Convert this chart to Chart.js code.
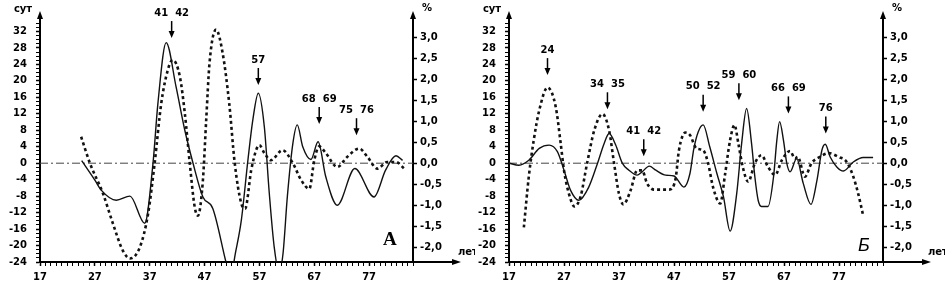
<!DOCTYPE html>
<html>
<head>
<meta charset="utf-8">
<script src="https://cdn.jsdelivr.net/npm/chart.js@4.4.1/dist/chart.umd.min.js"></script>
<style>
html, body { margin: 0; padding: 0; background: #fff; }
#wrap { position: relative; width: 945px; height: 288px; overflow: hidden; }
canvas { position: absolute; top: 0; }
#chartA { left: 0; }
#chartB { left: 470px; }
</style>
</head>
<body>
<div id="wrap">
  <canvas id="chartA" width="475" height="288"></canvas>
  <canvas id="chartB" width="475" height="288"></canvas>
</div>
<script>
// axis ticks
const xTickLabels = [17, 27, 37, 47, 57, 67, 77];
const dayTickLabels = [-24, -20, -16, -12, -8, -4, 0, 4, 8, 12, 16, 20, 24, 28, 32];
const pctTickLabels = [-2, -1.5, -1, -0.5, 0, 0.5, 1, 1.5, 2, 2.5, 3];
const dayPerPct = 10.2; // 1 % on the right axis = 10.2 сут on the left

// panel A: solid line, сут
const aSolidYears = [24.6, 27.0, 28.2, 30.9, 33.4, 36.1, 37.6, 38.5, 40.0, 41.8, 43.4, 44.9, 46.7, 48.5, 50.9, 51.7, 52.6, 53.7, 54.9, 55.8, 56.8, 57.9, 58.8, 59.7, 60.6, 61.3, 62.1, 63.1, 63.9, 64.9, 66.4, 67.7, 69.1, 71.2, 74.4, 77.9, 80.0, 81.9, 83.1];
const aSolidDays = [0.6, -4.1, -6.6, -9.0, -8.0, -14.6, 0, 14.6, 29.3, 18.6, 8.0, 0, -8.2, -11.0, -24.0, -28.0, -22.0, -13.9, 0.7, 10.5, 17.0, 8.8, -7.3, -20.4, -26.5, -22.0, -8.0, 4.8, 9.3, 4.0, 0.9, 5.2, -3.3, -10.2, -1.3, -8.2, -1.7, 1.8, 0.7];
// panel A: dotted line, %
const aDotYears = [24.5, 26.1, 28.5, 30.3, 32.1, 33.4, 35.2, 36.7, 37.9, 39.1, 40.3, 41.2, 42.5, 43.4, 44.3, 45.2, 45.8, 46.7, 47.3, 47.9, 49.1, 50.3, 51.5, 52.5, 53.7, 54.4, 55.5, 56.4, 57.0, 57.9, 59.1, 61.2, 63.1, 64.6, 66.1, 67.0, 67.9, 69.1, 71.2, 73.0, 75.2, 76.7, 78.5, 80.3, 81.9, 83.4];
const aDotPct = [0.63, 0, -0.73, -1.44, -2.08, -2.27, -2.0, -1.21, 0, 1.42, 2.22, 2.46, 2.06, 1.19, 0, -1.04, -1.25, -0.40, 1.03, 2.38, 3.18, 2.62, 1.42, 0, -0.96, -1.08, -0.17, 0.31, 0.43, 0.24, 0.07, 0.31, 0, -0.40, -0.61, 0.07, 0.40, 0.24, -0.09, 0.15, 0.35, 0.15, -0.13, 0.03, 0.03, -0.13];
// panel A: marked years
const aMarkLabels = ['41  42', '57', '68  69', '75  76'];
const aMarkYears = [41.0, 56.8, 67.9, 74.7];
const aMarkTips = [30.4, 19.0, 9.5, 6.8];

// panel Б: solid line, сут
const bSolidYears = [17.0, 18.8, 20.6, 22.5, 24.3, 25.8, 27.0, 28.2, 29.7, 31.5, 33.1, 34.3, 35.2, 36.4, 37.6, 38.8, 40.3, 41.2, 42.5, 43.7, 45.5, 47.0, 48.8, 49.9, 50.6, 51.4, 52.3, 53.5, 54.8, 56.0, 57.2, 58.4, 59.3, 60.2, 61.1, 61.7, 62.3, 62.9, 64.1, 65.1, 65.7, 66.2, 66.9, 67.5, 68.1, 69.3, 70.5, 71.9, 73.0, 73.9, 74.5, 75.4, 76.6, 77.8, 79.6, 81.4, 83.2];
const bSolidDays = [0, -0.5, 0.7, 3.6, 4.4, 2.8, -1.7, -6.6, -9.0, -5.8, 0, 4.8, 7.2, 4.4, 0, -1.7, -2.9, -2.1, -0.7, -1.7, -2.9, -3.1, -5.8, -2.5, 3.5, 7.6, 9.3, 4.0, -2.5, -8.2, -16.5, -7.4, 4.8, 13.3, 4.8, -3.3, -9.0, -10.5, -10.5, -3.3, 5.6, 10.1, 5.6, 0, -2.1, 1.1, -4.9, -10.0, -4.1, 3.2, 4.6, 1.5, -0.9, -1.9, 0.3, 1.4, 1.4];
// panel Б: dotted line, %
const bDotYears = [19.7, 20.6, 21.5, 22.5, 24.0, 25.5, 26.4, 27.0, 27.9, 28.9, 30.0, 31.2, 32.5, 34.0, 35.2, 36.1, 37.0, 37.8, 39.1, 40.3, 41.2, 42.1, 43.4, 46.1, 47.3, 47.9, 49.1, 49.9, 51.1, 52.3, 53.2, 54.1, 55.4, 56.3, 57.2, 58.0, 58.7, 59.5, 60.5, 61.7, 62.9, 64.1, 65.4, 66.6, 68.1, 69.0, 69.5, 70.8, 72.0, 73.5, 75.1, 76.9, 78.4, 79.6, 80.5, 81.4];
const bDotPct = [-1.53, -0.32, 0.55, 1.26, 1.80, 1.34, 0.47, -0.17, -0.73, -1.03, -0.80, 0, 0.78, 1.17, 0.78, 0, -0.73, -0.98, -0.65, -0.17, -0.17, -0.48, -0.63, -0.63, -0.36, 0.31, 0.73, 0.67, 0.35, 0.31, 0, -0.57, -0.96, -0.25, 0.55, 0.91, 0.47, -0.09, -0.44, 0, 0.19, -0.09, -0.28, 0.07, 0.29, 0.11, 0.15, -0.32, 0, 0.15, 0.24, 0.15, 0.03, -0.32, -0.73, -1.25];
// panel Б: marked years
const bMarkLabels = ['24', '34  35', '41  42', '50  52', '59  60', '66  69', '76'];
const bMarkYears = [24.0, 34.9, 41.5, 52.3, 58.8, 67.8, 74.6];
const bMarkTips = [21.4, 13.1, 1.7, 12.5, 15.3, 12.1, 7.2];

const tickFont = { family: 'DejaVu Sans', size: 10, weight: 'bold' };

function arrowHead(ctx, x, y, dir) {
  ctx.beginPath();
  if (dir === 'up') { ctx.moveTo(x, y); ctx.lineTo(x - 3, y + 8); ctx.lineTo(x + 3, y + 8); }
  else if (dir === 'down') { ctx.moveTo(x, y); ctx.lineTo(x - 3, y - 7); ctx.lineTo(x + 3, y - 7); }
  else { ctx.moveTo(x, y); ctx.lineTo(x - 9, y - 3); ctx.lineTo(x - 9, y + 3); }
  ctx.closePath();
  ctx.fill();
}

const decorPlugin = {
  id: 'decor',
  beforeDatasetsDraw(chart) {
    const { ctx, chartArea: a, scales: { y } } = chart;
    const y0 = y.getPixelForValue(0);
    ctx.save();
    ctx.strokeStyle = '#444';
    ctx.lineWidth = 1;
    ctx.setLineDash([8, 3, 2, 3]);
    ctx.beginPath();
    ctx.moveTo(a.left, y0);
    ctx.lineTo(a.right, y0);
    ctx.stroke();
    ctx.restore();
  },
  afterDraw(chart, args, o) {
    const { ctx, chartArea: a, scales: { x, y } } = chart;
    ctx.save();
    ctx.fillStyle = '#000';
    ctx.strokeStyle = '#000';
    // axis arrows
    arrowHead(ctx, a.left, a.top - 4, 'up');
    arrowHead(ctx, a.right, a.top - 4, 'up');
    ctx.lineWidth = 2;
    ctx.beginPath();
    ctx.moveTo(a.right, a.bottom);
    ctx.lineTo(a.right + 40, a.bottom);
    ctx.stroke();
    arrowHead(ctx, a.right + 48, a.bottom, 'right');
    // axis names
    ctx.font = 'bold 10px "DejaVu Sans"';
    ctx.textBaseline = 'middle';
    ctx.textAlign = 'center';
    ctx.fillText('сут', a.left - 17, 9);
    ctx.fillText('%', a.right + 14, 8);
    ctx.textAlign = 'left';
    ctx.fillText('лет', a.right + 45, a.bottom - 10);
    // marked years
    ctx.textAlign = 'center';
    ctx.lineWidth = 1.5;
    o.labels.forEach((t, i) => {
      const px = x.getPixelForValue(o.years[i]);
      const tip = y.getPixelForValue(o.tips[i]);
      const tail = tip - 17;
      ctx.beginPath();
      ctx.moveTo(px, tail);
      ctx.lineTo(px, tip - 5);
      ctx.stroke();
      arrowHead(ctx, px, tip, 'down');
      ctx.fillText(t, px, tail - 8);
    });
    // panel letter
    ctx.font = o.letterFont;
    ctx.fillText(o.letter, x.getPixelForValue(o.letterAt[0]), y.getPixelForValue(o.letterAt[1]));
    ctx.restore();
  }
};

function range(from, to) {
  const out = [];
  for (let v = from; v <= to; v++) out.push(v);
  return out;
}

function makePanel(id, leftWidth, solidYears, solidDays, dotYears, dotPct, decor) {
  return new Chart(document.getElementById(id), {
    type: 'line',
    data: {
      datasets: [
        {
          data: solidYears.map((v, i) => ({ x: v, y: solidDays[i] })),
          yAxisID: 'y',
          borderColor: '#111',
          borderWidth: 1.4,
          pointRadius: 0,
          cubicInterpolationMode: 'monotone'
        },
        {
          data: dotYears.map((v, i) => ({ x: v, y: dotPct[i] })),
          yAxisID: 'y1',
          borderColor: '#111',
          borderWidth: 2.6,
          borderDash: [3, 3],
          pointRadius: 0,
          cubicInterpolationMode: 'monotone'
        }
      ]
    },
    options: {
      responsive: false,
      animation: false,
      devicePixelRatio: 1,
      layout: { padding: { top: 15 } },
      plugins: { legend: { display: false }, tooltip: { enabled: false }, decor: decor },
      scales: {
        x: {
          type: 'linear',
          min: 17,
          max: 85,
          afterBuildTicks: s => { s.ticks = range(17, 85).map(v => ({ value: v })); },
          afterFit: s => { s.height = 26; },
          ticks: {
            autoSkip: false, maxRotation: 0, padding: 5, color: '#000', font: tickFont,
            callback: v => xTickLabels.includes(v) ? String(v) : ''
          },
          grid: { drawOnChartArea: false, tickLength: 4, tickColor: '#000',
            tickWidth: c => xTickLabels.includes(c.tick.value) ? 1.5 : 1 },
          border: { color: '#000', width: 2 }
        },
        y: {
          position: 'left',
          min: -24,
          max: 36,
          afterBuildTicks: s => { s.ticks = range(-24, 34).map(v => ({ value: v })); },
          afterFit: s => { s.width = leftWidth; },
          ticks: {
            autoSkip: false, padding: 9, color: '#000', font: tickFont,
            callback: v => dayTickLabels.includes(v) ? String(v) : ''
          },
          grid: { drawOnChartArea: false, tickLength: 4, tickColor: '#000',
            tickWidth: c => dayTickLabels.includes(c.tick.value) ? 1.5 : 1 },
          border: { color: '#000', width: 2 }
        },
        y1: {
          position: 'right',
          min: -24 / dayPerPct,
          max: 36 / dayPerPct,
          afterBuildTicks: s => { s.ticks = pctTickLabels.map(v => ({ value: v })); },
          afterFit: s => { s.width = 475 - 413; },
          ticks: {
            autoSkip: false, padding: 3, color: '#000', font: tickFont,
            callback: v => v.toFixed(1).replace('.', ',')
          },
          grid: { drawOnChartArea: false, tickLength: 4, tickColor: '#000', tickWidth: 1.5 },
          border: { color: '#000', width: 2 }
        }
      }
    },
    plugins: [decorPlugin]
  });
}

makePanel('chartA', 40, aSolidYears, aSolidDays, aDotYears, aDotPct, {
  labels: aMarkLabels, years: aMarkYears, tips: aMarkTips,
  letter: 'A', letterAt: [80.8, -18.6], letterFont: 'bold 19px "Liberation Serif"'
});
makePanel('chartB', 39, bSolidYears, bSolidDays, bDotYears, bDotPct, {
  labels: bMarkLabels, years: bMarkYears, tips: bMarkTips,
  letter: 'Б', letterAt: [81.5, -20.2], letterFont: 'italic 18px "Liberation Sans"'
});
</script>
</body>
</html>
